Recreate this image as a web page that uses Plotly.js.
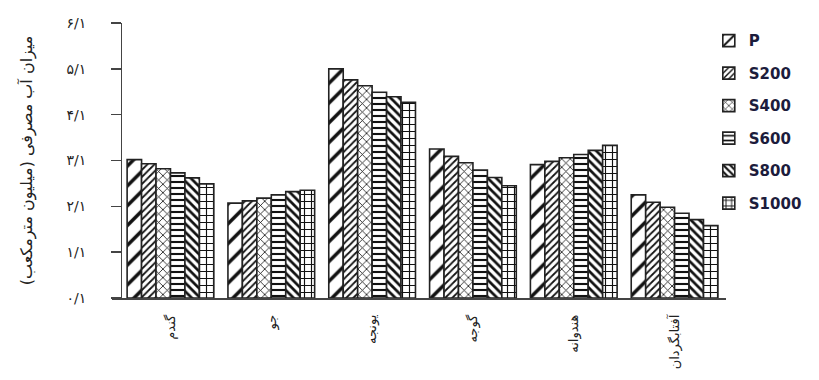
<!DOCTYPE html>
<html><head><meta charset="utf-8">
<script src="https://cdn.plot.ly/plotly-3.0.1.min.js"></script>
<style>html,body{margin:0;padding:0;background:#fff}#chart{width:819px;height:380px}</style>
</head><body><div id="chart"></div>
<script>
const categories = ["گندم", "جو", "یونجه", "گوجه", "هندوانه", "آفتابگردان"];
const seriesNames = ["P", "S200", "S400", "S600", "S800", "S1000"];
const P     = [3.02, 2.07, 5.00, 3.25, 2.91, 2.25];
const S200  = [2.93, 2.12, 4.76, 3.09, 2.98, 2.09];
const S400  = [2.82, 2.18, 4.63, 2.95, 3.06, 1.98];
const S600  = [2.73, 2.25, 4.49, 2.79, 3.13, 1.85];
const S800  = [2.62, 2.32, 4.39, 2.63, 3.22, 1.71];
const S1000 = [2.49, 2.35, 4.27, 2.45, 3.33, 1.58];
const tickVals = [0, 1, 2, 3, 4, 5, 6];
const tickText = ["۰/۱", "۱/۱", "۲/۱", "۳/۱", "۴/۱", "۵/۱", "۶/۱"];

const seriesValues = [P, S200, S400, S600, S800, S1000];
const patterns = [
  {shape: "/", size: 14, solidity: 0.25},
  {shape: "/", size: 5, solidity: 0.35},
  {shape: "x", size: 6, solidity: 0.25},
  {shape: "-", size: 6, solidity: 0.35},
  {shape: "\\", size: 6, solidity: 0.45},
  {shape: "+", size: 7, solidity: 0.3}
];
const traces = seriesNames.map((n, i) => ({
  type: "bar", name: n, x: categories, y: seriesValues[i],
  legendgroup: n,
  marker: {color: "#ffffff", line: {color: "#222", width: 1.6},
    pattern: Object.assign({fgcolor: "#111", bgcolor: "#fff", fillmode: "replace"}, patterns[i])}
}));
const layout = {
  width: 819, height: 380,
  margin: {l: 112, r: 89, t: 23, b: 82},
  paper_bgcolor: "#fff", plot_bgcolor: "#fff",
  barmode: "group", bargap: 0.14, bargroupgap: 0,
  font: {family: "DejaVu Sans, sans-serif", color: "#222"},
  xaxis: {
    range: [-0.58, 5.51], showline: true, linecolor: "#444", linewidth: 1.5,
    ticks: "", tickangle: -90, tickfont: {size: 13, color: "#222"},
    ticklabelstandoff: 10,
    showgrid: false, zeroline: false, fixedrange: true
  },
  yaxis: {
    range: [0, 6], anchor: "free", position: 0.0146,
    tickvals: tickVals, ticktext: tickText,
    showline: true, linecolor: "#444", linewidth: 1.5,
    ticks: "outside", ticklen: 10, tickwidth: 1.5, tickcolor: "#444",
    ticklabelstandoff: 22,
    tickfont: {size: 14, color: "#222"},
    showgrid: false, zeroline: false,
    title: {text: "میزان آب مصرفی (میلیون مترمکعب)", font: {size: 16, color: "#222"}, standoff: 28}
  },
  legend: {
    x: 0.972, xanchor: "left", y: 0.995, yanchor: "top",
    font: {size: 15, color: "#1c1c3c", family: "DejaVu Sans, sans-serif", weight: "bold"},
    tracegroupgap: 10, bgcolor: "rgba(0,0,0,0)", itemwidth: 30
  },
  showlegend: true
};
Plotly.newPlot("chart", traces, layout, {displayModeBar: false, staticPlot: true});
</script></body></html>
